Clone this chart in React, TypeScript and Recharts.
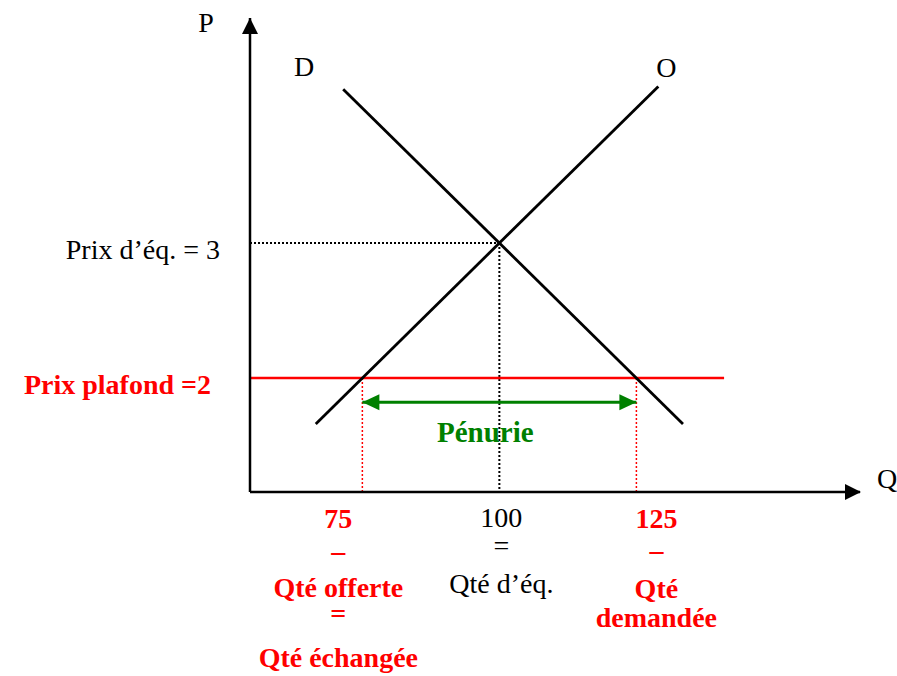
import React from "react";
import { ComposedChart, Line, XAxis, YAxis, ReferenceDot } from "recharts";

// curves (quantity q, price p)
const demandCurve = [
  { q: 71.5, p: 4.14 },
  { q: 133.5, p: 1.66 },
];
const supplyCurve = [
  { q: 66.5, p: 1.66 },
  { q: 129, p: 4.16 },
];

const equilibrium = { q: 100, p: 3 };
const ceilingPrice = 2;
const ceilingEndQ = 141;
const qtySupplied = 75;
const qtyDemanded = 125;
const shortageLevel = 1.82;

const qDomain: [number, number] = [54.5, 165.8];
const pDomain: [number, number] = [1.156, 4.667];

const qtyTicks = [75, 100, 125];
const qtyTickLines: Record<number, string[]> = {
  75: ["75", "–", "Qté offerte", "=", "Qté échangée"],
  100: ["100", "=", "Qté d’éq."],
  125: ["125", "–", "Qté", "demandée"],
};
const priceTicks = [2, 3];
const priceTickLabels: Record<number, string> = {
  2: "Prix plafond =2",
  3: "Prix d’éq. = 3",
};

const RED = "#ff0000";
const GREEN = "#008000";
const FONT = '"Liberation Serif", "Times New Roman", serif';

// series built from the values above
const ceilingLine = [
  { q: qDomain[0], p: ceilingPrice },
  { q: ceilingEndQ, p: ceilingPrice },
];
const eqPriceGuide = [
  { q: qDomain[0], p: equilibrium.p },
  { q: equilibrium.q, p: equilibrium.p },
];
const eqQtyGuide = [
  { q: equilibrium.q, p: equilibrium.p },
  { q: equilibrium.q, p: pDomain[0] },
];
const suppliedGuide = [
  { q: qtySupplied, p: ceilingPrice },
  { q: qtySupplied, p: pDomain[0] },
];
const demandedGuide = [
  { q: qtyDemanded, p: ceilingPrice },
  { q: qtyDemanded, p: pDomain[0] },
];
const shortageArrow = [
  { q: qtySupplied, p: shortageLevel },
  { q: qtyDemanded, p: shortageLevel },
];

// layout of the quantity tick labels
const qtyTickLayout: Record<number, { dx: number; color: string; bold: boolean; dy: number[] }> = {
  75: { dx: -24, color: RED, bold: true, dy: [36, 68, 105, 131, 175] },
  100: { dx: 2, color: "#000", bold: false, dy: [35, 63, 101] },
  125: { dx: 20, color: RED, bold: true, dy: [36, 67, 106, 135] },
};

const QtyTick = (props: any) => {
  const { x, y, payload } = props;
  const v = payload.value as number;
  const lay = qtyTickLayout[v];
  const lines = qtyTickLines[v] || [];
  return (
    <g>
      {lines.map((t, i) => (
        <text
          key={i}
          x={x + lay.dx}
          y={y + lay.dy[i]}
          textAnchor="middle"
          fontFamily={FONT}
          fontSize={28}
          fontWeight={lay.bold ? "bold" : "normal"}
          fill={lay.color}
        >
          {t}
        </text>
      ))}
    </g>
  );
};

const PriceTick = (props: any) => {
  const { x, y, payload } = props;
  const v = payload.value as number;
  const isCeiling = v === ceilingPrice;
  return (
    <text
      x={isCeiling ? x - 9 : x}
      y={y + 16}
      textAnchor="end"
      fontFamily={FONT}
      fontSize={28}
      fontWeight={isCeiling ? "bold" : "normal"}
      fill={isCeiling ? RED : "#000"}
    >
      {priceTickLabels[v]}
    </text>
  );
};

const ArrowUp = (props: any) => {
  const { cx, cy } = props;
  return (
    <g>
      <path d={`M${cx},${cy} L${cx - 8},${cy + 16} L${cx + 8},${cy + 16} Z`} fill="#000" />
      <text x={cx - 44} y={cy + 14} textAnchor="middle" fontFamily={FONT} fontSize={28} fill="#000">
        P
      </text>
    </g>
  );
};

const ArrowRight = (props: any) => {
  const { cx, cy } = props;
  return (
    <g>
      <path d={`M${cx + 1},${cy} L${cx - 15},${cy - 8} L${cx - 15},${cy + 8} Z`} fill="#000" />
      <text x={cx + 27} y={cy - 4} textAnchor="middle" fontFamily={FONT} fontSize={28} fill="#000">
        Q
      </text>
    </g>
  );
};

const curveLabel = (text: string, dx: number, dy: number) => (props: any) => {
  const { cx, cy } = props;
  return (
    <text x={cx + dx} y={cy + dy} textAnchor="middle" fontFamily={FONT} fontSize={28} fill="#000">
      {text}
    </text>
  );
};

const ShortageLabel = (props: any) => {
  const { cx, cy } = props;
  return (
    <text
      x={cx - 14}
      y={cy + 40}
      textAnchor="middle"
      fontFamily={FONT}
      fontSize={29}
      fontWeight="bold"
      fill={GREEN}
    >
      Pénurie
    </text>
  );
};

const shortageHead = (props: any) => {
  const { cx, cy, index } = props;
  const d =
    index === 0
      ? `M${cx},${cy} L${cx + 17},${cy - 8} L${cx + 17},${cy + 8} Z`
      : `M${cx},${cy} L${cx - 17},${cy - 8} L${cx - 17},${cy + 8} Z`;
  return <path key={`head-${index}`} d={d} fill={GREEN} />;
};

const App: React.FC = () => {
  return (
    <div style={{ position: "absolute", left: 0, top: 0, width: 897, height: 676, background: "#fff" }}>
      <ComposedChart width={897} height={676} margin={{ top: 18, right: 37, left: 0, bottom: 0 }}>
        <XAxis
          type="number"
          dataKey="q"
          domain={qDomain}
          allowDataOverflow
          ticks={qtyTicks}
          interval={0}
          height={184}
          tickSize={0}
          tickMargin={0}
          tickLine={false}
          axisLine={{ stroke: "#000", strokeWidth: 2.5 }}
          tick={<QtyTick />}
        />
        <YAxis
          type="number"
          dataKey="p"
          domain={pDomain}
          allowDataOverflow
          ticks={priceTicks}
          interval={0}
          width={250}
          tickSize={0}
          tickMargin={30}
          tickLine={false}
          axisLine={{ stroke: "#000", strokeWidth: 2.5 }}
          tick={<PriceTick />}
        />

        <Line data={eqPriceGuide} dataKey="p" stroke="#000" strokeWidth={2} strokeDasharray="2 2" dot={false} activeDot={false} isAnimationActive={false} />
        <Line data={eqQtyGuide} dataKey="p" stroke="#000" strokeWidth={2} strokeDasharray="2 2" dot={false} activeDot={false} isAnimationActive={false} />
        <Line data={suppliedGuide} dataKey="p" stroke={RED} strokeWidth={1.5} strokeDasharray="2 2" dot={false} activeDot={false} isAnimationActive={false} />
        <Line data={demandedGuide} dataKey="p" stroke={RED} strokeWidth={1.5} strokeDasharray="2 2" dot={false} activeDot={false} isAnimationActive={false} />
        <Line data={ceilingLine} dataKey="p" stroke={RED} strokeWidth={2.5} dot={false} activeDot={false} isAnimationActive={false} />
        <Line data={demandCurve} dataKey="p" stroke="#000" strokeWidth={2.8} dot={false} activeDot={false} isAnimationActive={false} />
        <Line data={supplyCurve} dataKey="p" stroke="#000" strokeWidth={2.8} dot={false} activeDot={false} isAnimationActive={false} />
        <Line data={shortageArrow} dataKey="p" stroke={GREEN} strokeWidth={3} dot={shortageHead} activeDot={false} isAnimationActive={false} />

        <ReferenceDot x={qDomain[0]} y={pDomain[1]} ifOverflow="visible" shape={ArrowUp} />
        <ReferenceDot x={qDomain[1]} y={pDomain[0]} ifOverflow="visible" shape={ArrowRight} />
        <ReferenceDot x={demandCurve[0].q} y={demandCurve[0].p} ifOverflow="visible" shape={curveLabel("D", -39, -13)} />
        <ReferenceDot x={supplyCurve[1].q} y={supplyCurve[1].p} ifOverflow="visible" shape={curveLabel("O", 8, -9)} />
        <ReferenceDot x={equilibrium.q} y={shortageLevel} ifOverflow="visible" shape={ShortageLabel} />
      </ComposedChart>
    </div>
  );
};

export default App;
